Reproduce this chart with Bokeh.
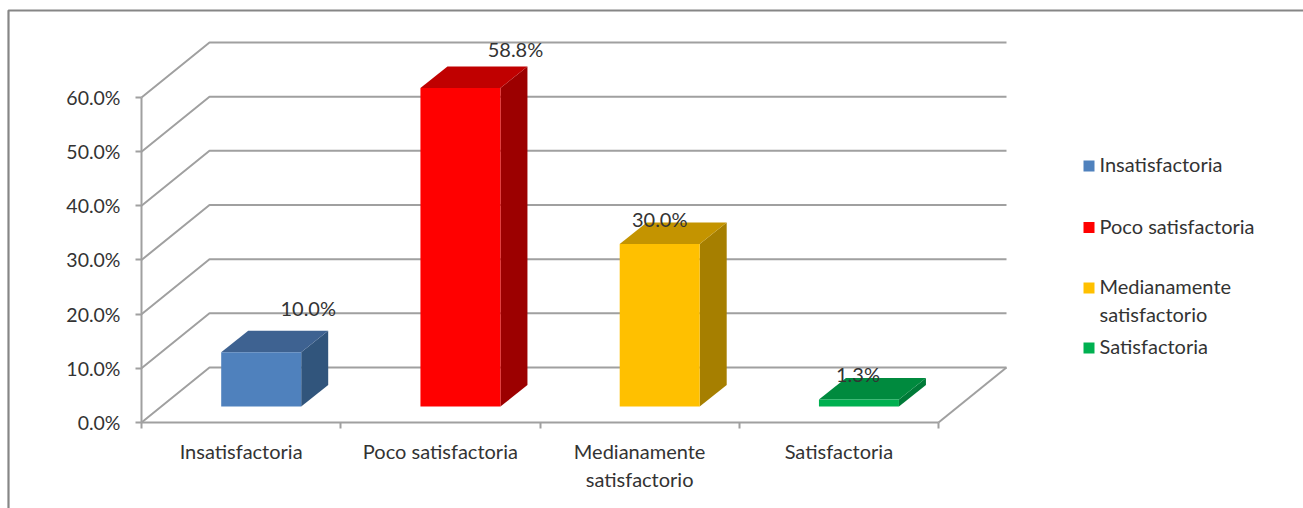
from bokeh.core.properties import value
from bokeh.embed import file_html
from bokeh.models import FixedTicker, LinearAxis, Range1d
from bokeh.plotting import figure
from bokeh.resources import INLINE

# Chart values
categories = ["Insatisfactoria", "Poco satisfactoria", "Medianamente satisfactorio", "Satisfactoria"]
axis_labels = ["Insatisfactoria", "Poco satisfactoria", "Medianamente\nsatisfactorio", "Satisfactoria"]
legend_labels = ["Insatisfactoria", "Poco satisfactoria", "Medianamente\nsatisfactorio", "Satisfactoria"]
percentages = [10.0, 58.8, 30.0, 1.3]
value_labels = ["10.0%", "58.8%", "30.0%", "1.3%"]
y_ticks = [0, 10, 20, 30, 40, 50, 60]
front_colors = ["#4F81BD", "#FF0000", "#FFC000", "#00B050"]
top_colors = ["#3E6291", "#C00000", "#C49400", "#008A3E"]
side_colors = ["#31557C", "#9C0000", "#A67F00", "#007A38"]

# Page geometry: plot origin in pixels and scale of both axes
WIDTH, HEIGHT = 1303, 508
ORIGIN_X, ORIGIN_Y = 141, 422
PX_PER_CATEGORY = 199.25
PX_PER_PERCENT = 5.4167


def dx(px):
    return px / PX_PER_CATEGORY


def dy(px):
    return px / PX_PER_PERCENT


def page_x(px):
    return dx(px - ORIGIN_X)


def page_y(px):
    return dy(ORIGIN_Y - px)


p = figure(
    width=WIDTH, height=HEIGHT, output_backend="svg", toolbar_location=None,
    x_range=Range1d(page_x(0), page_x(WIDTH)),
    y_range=Range1d(page_y(HEIGHT), page_y(0)),
    x_axis_type=None, y_axis_type=None,
    min_border=0, min_border_left=0, min_border_right=0, min_border_top=0, min_border_bottom=0,
    outline_line_color=None, background_fill_color="white", border_fill_color="white",
)
p.grid.visible = False

FONT = "Lato"
FONT_SIZE = "20px"
TEXT_COLOR = "#333333"
LINE_COLOR = "#A0A0A0"

# Chart area border (left and top edges)
p.line([page_x(8), page_x(8), page_x(1303)], [page_y(508), page_y(10), page_y(10)],
       line_color="#868686", line_width=2.2)

# 3D walls: gridlines run from the axis back to the rear wall and along it
wall_dx, wall_dy = dx(68), dy(55)
n = len(categories)
for t in y_ticks:
    p.line([0, wall_dx, n + wall_dx], [t, t + wall_dy, t + wall_dy],
           line_color=LINE_COLOR, line_width=2)
# Floor edge on the right
p.line([n, n + wall_dx], [0, wall_dy], line_color=LINE_COLOR, line_width=2)

# Bars as three faces: side, top, front
bar_left, bar_width = dx(79.7), dx(80)
bar_base = dy(16)
depth_x, depth_y = dx(27), dy(21.5)
fronts_x, fronts_y, tops_x, tops_y, sides_x, sides_y = [], [], [], [], [], []
for i, v in enumerate(percentages):
    x0 = i + bar_left
    x1 = x0 + bar_width
    y0 = bar_base
    y1 = bar_base + v
    fronts_x.append([x0, x1, x1, x0])
    fronts_y.append([y0, y0, y1, y1])
    tops_x.append([x0, x1, x1 + depth_x, x0 + depth_x])
    tops_y.append([y1, y1, y1 + depth_y, y1 + depth_y])
    sides_x.append([x1, x1 + depth_x, x1 + depth_x, x1])
    sides_y.append([y0, y0 + depth_y, y1 + depth_y, y1])
p.patches(sides_x, sides_y, fill_color=side_colors, line_color=None)
p.patches(tops_x, tops_y, fill_color=top_colors, line_color=None)
p.patches(fronts_x, fronts_y, fill_color=front_colors, line_color=None)

# Data labels, nudged from each bar's top centre
label_dx = [47, 55, 0, -1]
label_dy = [44, 39, 25, 25]
label_x = [i + bar_left + bar_width / 2 + dx(o) for i, o in enumerate(label_dx)]
label_y = [bar_base + v + dy(o) for v, o in zip(percentages, label_dy)]
p.text(label_x, label_y, text=value_labels, text_font=value(FONT), text_font_size=FONT_SIZE,
       text_color=TEXT_COLOR, text_align="center", text_baseline="middle")

# Value axis
y_axis = LinearAxis(fixed_location=0, bounds=(0, 60), ticker=FixedTicker(ticks=y_ticks),
                    major_label_overrides={t: f"{t:.1f}%" for t in y_ticks},
                    major_tick_out=6, major_tick_in=0, minor_tick_line_color=None,
                    axis_line_color=LINE_COLOR, axis_line_width=2,
                    major_tick_line_color=LINE_COLOR, major_tick_line_width=2,
                    major_label_text_font=FONT, major_label_text_font_size="19.5px",
                    major_label_text_color=TEXT_COLOR, major_label_standoff=15)
p.add_layout(y_axis, "left")

# Category axis: minor ticks separate categories, labels sit on the major ticks between them
centres = [i + 0.5 for i in range(n)]
x_axis = LinearAxis(fixed_location=0, bounds=(0, n),
                    ticker=FixedTicker(ticks=centres, minor_ticks=list(range(n + 1))),
                    major_label_overrides=dict(zip(centres, axis_labels)),
                    major_tick_line_color=None, major_tick_out=0, major_tick_in=0,
                    minor_tick_out=6, minor_tick_in=0,
                    minor_tick_line_color=LINE_COLOR, minor_tick_line_width=2,
                    axis_line_color=LINE_COLOR, axis_line_width=2,
                    major_label_text_font=FONT, major_label_text_font_size=FONT_SIZE,
                    major_label_text_color=TEXT_COLOR, major_label_standoff=10)
p.add_layout(x_axis, "below")

# Legend swatches and entries
legend_swatch_y = [165.5, 227, 287.5, 347.5]
legend_text_y = [163, 225, 299.5, 345]
p.rect([page_x(1088.5)] * n, [page_y(y) for y in legend_swatch_y],
       width=dx(11), height=dy(11), fill_color=front_colors, line_color=None)
p.text([page_x(1099)] * n, [page_y(y) for y in legend_text_y], text=legend_labels,
       text_font=value(FONT), text_font_size=FONT_SIZE, text_color=TEXT_COLOR,
       text_align="left", text_baseline="middle", text_line_height=1.15)

open("out.html", "w").write(file_html(p, INLINE))
